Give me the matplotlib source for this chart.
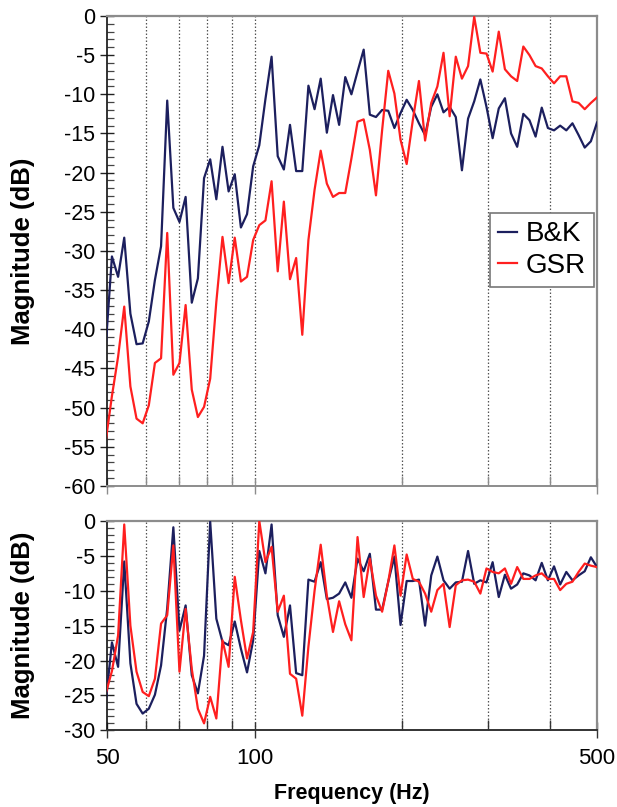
import matplotlib
matplotlib.use("Agg")
import matplotlib.pyplot as plt
from matplotlib.ticker import FixedLocator, NullFormatter, FixedFormatter, MultipleLocator

plt.rcParams['font.family'] = ['Liberation Sans', 'DejaVu Sans']
plt.rcParams['axes.unicode_minus'] = False

# 1/24-octave analysis frequencies (Hz)
freq_hz = [
    49.61, 51.06, 52.56, 54.10, 55.69, 57.32, 59.00, 60.73,
    62.50, 64.33, 66.22, 68.16, 70.15, 72.21, 74.33, 76.50,
    78.75, 81.06, 83.43, 85.88, 88.39, 90.98, 93.65, 96.39,
    99.21, 102.12, 105.11, 108.19, 111.36, 114.62, 117.98, 121.44,
    125.00, 128.66, 132.43, 136.31, 140.31, 144.42, 148.65, 153.01,
    157.49, 162.10, 166.85, 171.75, 176.78, 181.96, 187.29, 192.78,
    198.43, 204.24, 210.23, 216.39, 222.73, 229.26, 235.97, 242.89,
    250.00, 257.33, 264.87, 272.63, 280.62, 288.84, 297.30, 306.02,
    314.98, 324.21, 333.71, 343.49, 353.55, 363.91, 374.57, 385.55,
    396.85, 408.48, 420.45, 432.77, 445.45, 458.50, 471.93, 485.77,
    500.00,
]

# Upper panel: magnitude response (dB)
bk_mag = [
    -42.0, -30.7, -33.3, -28.3, -38.0, -41.9, -41.8, -39.0, -33.7, -29.4,
    -10.8, -24.5, -26.3, -23.1, -36.6, -33.5, -20.7, -18.3, -23.4, -16.7,
    -22.4, -20.2, -27.0, -25.3, -19.2, -16.5, -10.6, -5.2, -17.9, -19.6,
    -13.9, -19.8, -19.8, -8.9, -11.9, -8.0, -14.9, -10.1, -13.9, -7.8,
    -10.0, -7.1, -4.3, -12.6, -12.9, -12.0, -12.1, -14.3, -12.4, -10.7,
    -12.0, -13.7, -15.2, -11.6, -10.0, -12.3, -11.6, -12.9, -19.7, -13.1,
    -10.9, -8.1, -11.6, -15.6, -11.8, -10.5, -15.0, -16.7, -12.5, -13.3,
    -15.4, -11.7, -14.3, -14.6, -14.0, -14.6, -13.7, -15.2, -16.8, -16.0,
    -13.6,
]
gsr_mag = [
    -54.2, -48.5, -43.5, -37.1, -47.3, -51.4, -52.0, -49.7, -44.3, -43.7,
    -27.7, -45.8, -44.3, -36.9, -47.7, -51.2, -49.9, -46.3, -36.5, -28.2,
    -34.1, -28.3, -33.9, -33.3, -28.6, -26.7, -26.1, -21.1, -32.6, -23.7,
    -33.6, -30.9, -40.7, -28.6, -22.2, -17.2, -21.4, -23.1, -22.6, -22.6,
    -18.2, -13.5, -13.2, -17.1, -22.9, -14.6, -7.0, -9.9, -15.8, -18.9,
    -13.3, -8.3, -15.9, -11.1, -9.0, -4.7, -12.8, -5.2, -8.0, -6.4,
    -0.1, -4.7, -4.8, -7.1, -2.0, -6.8, -7.7, -8.3, -3.9, -5.0,
    -6.4, -6.7, -7.7, -8.6, -7.7, -7.7, -10.9, -11.1, -11.9, -11.1,
    -10.4,
]

# Lower panel: normalised magnitude (dB)
bk_norm = [
    -25.9, -17.4, -20.9, -5.8, -20.4, -26.2, -27.6, -26.9, -24.9, -20.7,
    -12.5, -0.9, -15.7, -12.1, -22.1, -24.7, -19.3, -0.1, -14.0, -17.3,
    -17.8, -14.4, -18.3, -21.7, -17.1, -4.3, -7.5, -0.5, -13.5, -16.6,
    -12.1, -21.8, -22.1, -8.4, -8.7, -5.9, -11.2, -11.0, -10.4, -8.8,
    -11.0, -5.4, -7.2, -4.7, -12.7, -12.7, -8.7, -5.1, -14.9, -8.6,
    -8.6, -8.4, -15.0, -7.8, -5.1, -8.5, -9.7, -8.8, -8.7, -4.3,
    -9.0, -8.5, -8.8, -5.9, -10.9, -7.7, -9.7, -9.1, -7.5, -7.8,
    -8.5, -6.0, -8.5, -6.5, -9.1, -7.3, -8.5, -7.8, -7.2, -5.2,
    -6.6,
]
gsr_norm = [
    -24.7, -21.5, -16.4, -0.5, -15.0, -21.6, -24.5, -25.1, -22.6, -14.7,
    -13.5, -3.5, -21.6, -12.6, -21.2, -26.9, -29.0, -25.2, -28.3, -17.1,
    -20.9, -8.0, -14.2, -19.7, -15.9, 0.0, -5.9, -3.7, -13.0, -10.7,
    -21.9, -22.6, -27.9, -18.0, -10.0, -3.4, -10.7, -15.9, -11.5, -14.8,
    -17.1, -2.3, -10.9, -5.4, -10.7, -13.0, -8.7, -3.5, -10.7, -4.8,
    -8.3, -8.7, -10.4, -13.0, -9.9, -9.0, -15.2, -9.2, -8.5, -8.4,
    -8.7, -10.4, -6.8, -7.3, -7.5, -6.8, -9.0, -6.6, -8.3, -8.3,
    -7.8, -7.5, -8.3, -8.3, -9.9, -9.0, -8.7, -7.3, -6.1, -6.4,
    -6.6,
]

series_labels = ["B&K", "GSR"]
series_colors = ["#1c1f5e", "#ff1f1f"]

labeled_freqs = [50, 100, 500]
labeled_text = ["50", "100", "500"]
minor_freqs = [60, 70, 80, 90, 200, 300, 400]
grid_freqs = [60, 70, 80, 90, 100, 200, 300, 400]

fig = plt.figure(figsize=(6.17, 8.07), dpi=100)
ax_top = fig.add_axes([0.1742, 0.3978, 0.7934, 0.5824])
ax_bot = fig.add_axes([0.1742, 0.0950, 0.7934, 0.2594])


def style_axes(ax, ymin, show_xlabels):
    ax.set_xscale("log")
    ax.set_xlim(50, 500)
    ax.set_ylim(ymin, 0)
    for f in grid_freqs:
        ax.axvline(f, color="#555555", lw=0.9, ls=(0, (1.2, 1.6)), zorder=1)
    ax.xaxis.set_major_locator(FixedLocator(labeled_freqs))
    ax.xaxis.set_minor_locator(FixedLocator(minor_freqs))
    ax.xaxis.set_minor_formatter(NullFormatter())
    if show_xlabels:
        ax.xaxis.set_major_formatter(FixedFormatter(labeled_text))
    else:
        ax.xaxis.set_major_formatter(NullFormatter())
    ax.yaxis.set_major_locator(MultipleLocator(5))
    ax.yaxis.set_minor_locator(MultipleLocator(1))
    ax.tick_params(axis="y", which="major", direction="inout", length=10,
                   width=1.0, pad=4, labelsize=15.5, color="#222222")
    ax.tick_params(axis="y", which="minor", direction="in", length=5,
                   width=0.9, color="#444444")
    tick_col = "#333333" if show_xlabels else "#8c8c8c"
    ax.tick_params(axis="x", which="major", direction="inout", length=12,
                   width=1.0, pad=7, labelsize=16, color=tick_col)
    ax.tick_params(axis="x", which="minor", direction="in", length=7,
                   width=1.0, color=tick_col)
    ax.spines["left"].set_color("#111111")
    ax.spines["left"].set_linewidth(1.2)
    for side in ("top", "right"):
        ax.spines[side].set_color("#8c8c8c")
        ax.spines[side].set_linewidth(1.6)
    ax.spines["bottom"].set_color(tick_col)
    ax.spines["bottom"].set_linewidth(1.4)
    ax.set_ylabel("Magnitude (dB)", fontsize=18.5, fontweight="bold")
    ax.yaxis.set_label_coords(-0.148, 0.5)


style_axes(ax_top, -60, False)
style_axes(ax_bot, -30, True)

for vals, lab, col in zip([bk_mag, gsr_mag], series_labels, series_colors):
    ax_top.plot(freq_hz, vals, color=col, lw=1.6, label=lab, zorder=3)
for vals, lab, col in zip([bk_norm, gsr_norm], series_labels, series_colors):
    ax_bot.plot(freq_hz, vals, color=col, lw=1.6, label=lab, zorder=3)

leg = ax_top.legend(loc="upper right", bbox_to_anchor=(0.994, 0.581),
                    borderaxespad=0, fontsize=20, handlelength=0.7,
                    handletextpad=0.3, labelspacing=0.2, borderpad=0.3,
                    fancybox=False, framealpha=1, edgecolor="#777777")
leg.get_frame().set_linewidth(1.2)
leg.set_zorder(5)

ax_bot.set_xlabel("Frequency (Hz)", fontsize=15.5, fontweight="bold")
ax_bot.xaxis.set_label_coords(0.5, -0.25)

fig.savefig("out.png", dpi=100)
